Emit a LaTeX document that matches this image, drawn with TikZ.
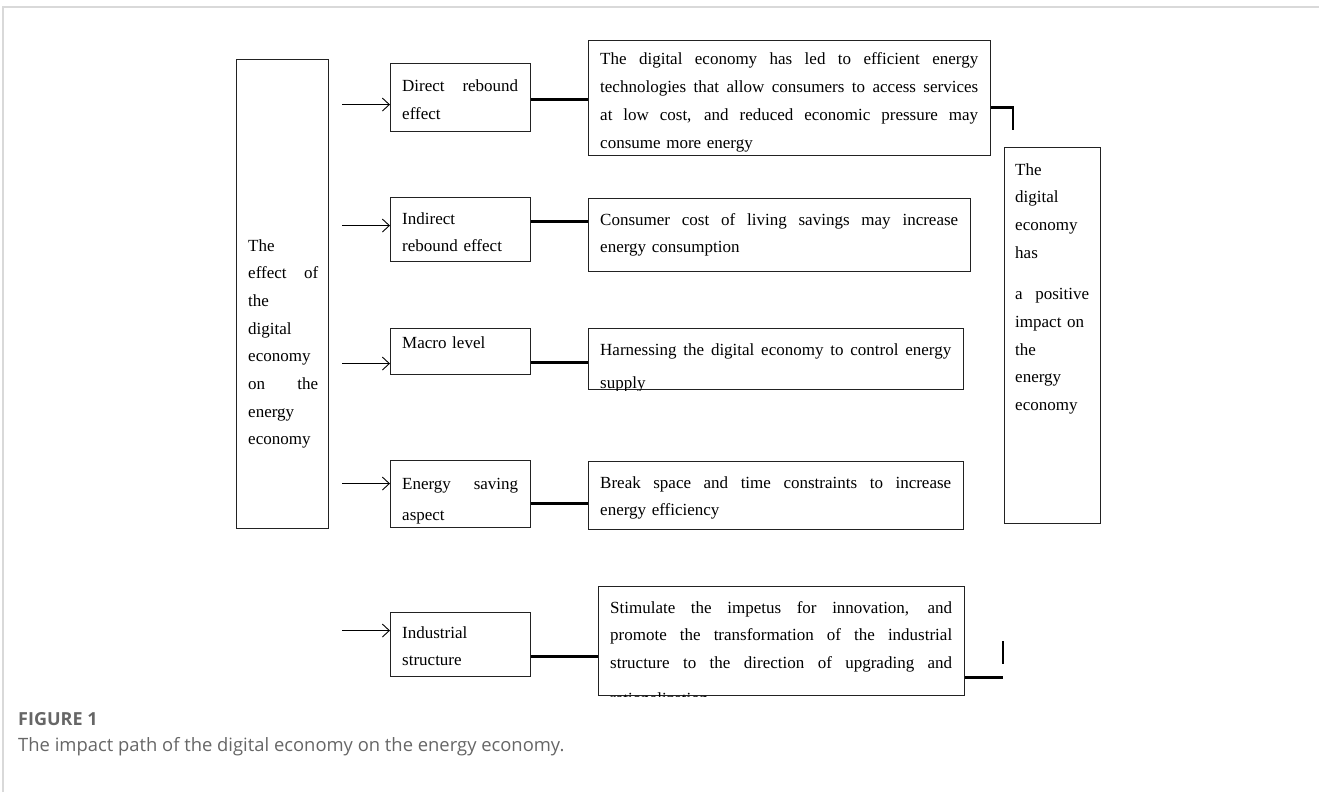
\documentclass[tikz,border=0pt]{standalone}
\usepackage{fontspec}
\setmainfont{Liberation Serif}
\newfontfamily\capfont{Open Sans}
\usetikzlibrary{arrows,arrows.meta,positioning}
\definecolor{framegrey}{HTML}{D9D9D9}
\definecolor{capgrey}{HTML}{666666}
\definecolor{boxline}{HTML}{222222}
% one justified line of a box
\newcommand{\jl}[1]{\makebox[\hsize][s]{\spaceskip=0pt\xspaceskip=0pt\relax #1}}

\begin{document}
\begin{tikzpicture}[x=1pt,y=-1pt,>={Straight Barb[length=7pt,width=13pt]},
	box/.style={draw=boxline, line width=1.1pt, anchor=north west, inner sep=0pt},
	txt/.style={anchor=base west, inner sep=0pt, align=left, font=\fontsize{17}{27.7}\selectfont},
	link/.style={line width=2.2pt},
	feed/.style={->, line width=0.9pt}]
		\useasboundingbox (0,0) rectangle (1319,792);
		%Frame
		\draw [framegrey, line width=2pt] (3,792) -- (3,7.5) -- (1319,7.5);
		%Outer boxes
		\node [box, minimum width=92, minimum height=469] (effect) at (236,59) {};
		\node [txt, text width=70] (effecttext) at (248,251) {The\\ \jl{effect of}\\ the\\ digital\\ economy\\ \jl{on the}\\ energy\\ economy};
		\node [box, minimum width=96, minimum height=376] (impact) at (1004,147) {};
		\node [txt, text width=74] (impacttext) at (1015,175) {The\\ digital\\ economy\\ has\\[14pt] \jl{a positive}\\ impact on\\ the\\ energy\\ economy};
		%Paths
		\node [box, minimum width=140, minimum height=68] (direct) at (390,63) {};
		\node [txt, text width=116] (directtext) at (402,92) {\jl{Direct rebound}\\ effect};
		\node [box, minimum width=140, minimum height=64] (indirect) at (390,197) {};
		\node [txt, text width=116] (indirecttext) at (402,224) {Indirect\\ rebound effect};
		\node [box, minimum width=140, minimum height=46] (macro) at (390,328) {};
		\node [txt, text width=116] (macrotext) at (402,348) {Macro level};
		\node [box, minimum width=140, minimum height=67] (saving) at (390,460) {};
		\begin{scope}
			\clip (saving.north west) rectangle (saving.south east);
			\node [txt, text width=116] (savingtext) at (402,489) {\jl{Energy saving}\\[4pt] aspect};
		\end{scope}
		\node [box, minimum width=140, minimum height=64] (industry) at (390,612) {};
		\node [txt, text width=116] (industrytext) at (402,638) {Industrial\\ structure};
		%Explanations
		\node [box, minimum width=402, minimum height=115] (rebound) at (588,40) {};
		\node [txt, text width=378] (reboundtext) at (600,65) {\jl{The digital economy has led to efficient energy}\\ \jl{technologies that allow consumers to access services}\\ \jl{at low cost, and reduced economic pressure may}\\ consume more energy};
		\node [box, minimum width=382, minimum height=73] (living) at (588,198) {};
		\node [txt, text width=358] (livingtext) at (600,225) {\jl{Consumer cost of living savings may increase}\\ energy consumption};
		\node [box, minimum width=375, minimum height=61] (supply) at (588,328) {};
		\begin{scope}
			\clip (supply.north west) rectangle (supply.south east);
			\node [txt, text width=351] (supplytext) at (600,355) {\jl{Harnessing the digital economy to control energy}\\[6pt] supply};
		\end{scope}
		\node [box, minimum width=375, minimum height=68] (constraint) at (588,461) {};
		\node [txt, text width=351] (constrainttext) at (600,488) {\jl{Break space and time constraints to increase}\\ energy efficiency};
		\node [box, minimum width=366, minimum height=109] (upgrade) at (598,586) {};
		\begin{scope}
			\clip (upgrade.north west) rectangle (upgrade.south east);
			\node [txt, text width=342] (upgradetext) at (610,613) {\jl{Stimulate the impetus for innovation, and}\\ \jl{promote the transformation of the industrial}\\ \jl{structure to the direction of upgrading and}\\[8pt] rationalization};
		\end{scope}
		%Arrows
		\draw [feed] ([xshift=-48pt,yshift=-7pt]direct.west) -- ([yshift=-7pt]direct.west);
		\draw [feed] ([xshift=-48pt,yshift=4pt]indirect.west) -- ([yshift=4pt]indirect.west);
		\draw [feed] ([xshift=-48pt,yshift=-12pt]macro.west) -- ([yshift=-12pt]macro.west);
		\draw [feed] ([xshift=-48pt,yshift=10.5pt]saving.west) -- ([yshift=10.5pt]saving.west);
		\draw [feed] ([xshift=-48pt,yshift=14pt]industry.west) -- ([yshift=14pt]industry.west);
		%Links
		\draw [link] ([yshift=-2pt]direct.east) -- ([yshift=-2pt]direct.east -| rebound.west);
		\draw [link] ([yshift=8pt]indirect.east) -- ([yshift=8pt]indirect.east -| living.west);
		\draw [link] ([yshift=-11pt]macro.east) -- ([yshift=-11pt]macro.east -| supply.west);
		\draw [link] ([yshift=-9.5pt]saving.east) -- ([yshift=-9.5pt]saving.east -| constraint.west);
		\draw [link] ([yshift=-12pt]industry.east) -- ([yshift=-12pt]industry.east -| upgrade.west);
		\draw [link] ([yshift=-9.5pt]rebound.east) -- ++(22,0) -- ++(0,22);
		\draw [link] ([yshift=-36.5pt]upgrade.east) -- ++(38,0);
		\draw [link] ([yshift=-36.5pt]upgrade.east) ++(38,-14) -- ++(0,-23);
		%Caption
		\node [anchor=base west, inner sep=0pt, text=capgrey, font=\capfont\bfseries\fontsize{18}{20}\selectfont] (figlabel) at (18,725) {FIGURE 1};
		\node [anchor=base west, inner sep=0pt, text=capgrey, font=\capfont\fontsize{18.4}{20}\selectfont] (figtitle) at (18,751) {The impact path of the digital economy on the energy economy.};
	\end{tikzpicture}
\end{document}
